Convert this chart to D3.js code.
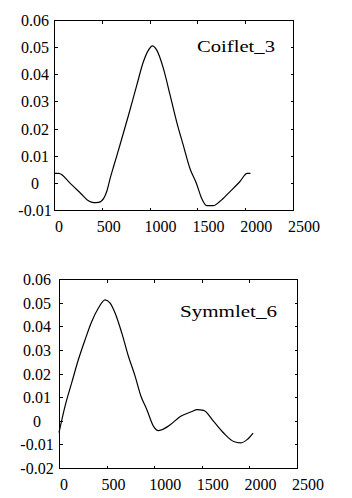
<!DOCTYPE html>
<html>
<head>
<meta charset="utf-8">
<script src="https://cdn.jsdelivr.net/npm/d3@7"></script>
<style>
  body { margin: 0; background: #fff; }
  svg { display: block; }
</style>
</head>
<body>
<div id="chart"></div>
<script>
// x ticks shared by both panels
const x_ticks = [0, 500, 1000, 1500, 2000, 2500]

// Coiflet_3 wavelet
const coiflet_x = [0, 50, 170, 280, 360, 415, 465, 520, 555, 590, 625, 693, 780, 866, 935, 988, 1029, 1075, 1144, 1214, 1283, 1352, 1422, 1492, 1544, 1596, 1665, 1734, 1839, 1943, 2020, 2055]
const coiflet_y = [0.0035, 0.0035, -0.0002, -0.0039, -0.0066, -0.0073, -0.0072, -0.0057, -0.0028, 0.0020, 0.0062, 0.0143, 0.025, 0.036, 0.0446, 0.0489, 0.0505, 0.0489, 0.0422, 0.0324, 0.0225, 0.0139, 0.0053, -0.0004, -0.0057, -0.0084, -0.0084, -0.0069, -0.0033, 0.0004, 0.0035, 0.0035]
const coiflet_yticks = [-0.01, 0, 0.01, 0.02, 0.03, 0.04, 0.05, 0.06]

// Symmlet_6 wavelet
const symmlet_x = [0, 63, 133, 203, 274, 344, 414, 484, 537, 589, 660, 730, 800, 860, 923, 993, 1045, 1081, 1168, 1274, 1397, 1449, 1519, 1624, 1729, 1835, 1905, 1975, 2039]
const symmlet_y = [-0.005, 0.0061, 0.016, 0.0258, 0.0343, 0.042, 0.0477, 0.0512, 0.0498, 0.0456, 0.0371, 0.0272, 0.0188, 0.0105, 0.0047, -0.0024, -0.0042, -0.0038, -0.0017, 0.0018, 0.0039, 0.0047, 0.0044, -0.0003, -0.0052, -0.0088, -0.0094, -0.008, -0.0052]
const symmlet_yticks = [-0.02, -0.01, 0, 0.01, 0.02, 0.03, 0.04, 0.05, 0.06]

const panels = [
  { name: "Coiflet_3", xs: coiflet_x, ys: coiflet_y, yticks: coiflet_yticks,
    x0: 54, x1: 293, y0: 20, y1: 210, label_x: 35, title_dx: 96, title_dy: 32, title_len: 78 },
  { name: "Symmlet_6", xs: symmlet_x, ys: symmlet_y, yticks: symmlet_yticks,
    x0: 59, x1: 297, y0: 279, y1: 468, label_x: 37, title_dx: 117, title_dy: 38, title_len: 97 }
]

const font = '"Liberation Serif"'

const svg = d3.select("#chart")
  .append("svg")
  .attr("width", 352)
  .attr("height", 498)

panels.forEach((p) => {
  const x_scale = d3.scaleLinear()
    .domain([0, 2500])
    .range([p.x0, p.x1])

  const y_scale = d3.scaleLinear()
    .domain([p.yticks[0], p.yticks[p.yticks.length - 1]])
    .range([p.y1, p.y0])

  const g = svg.append("g")

  // inward ticks on all four sides
  const tick = 3
  g.append("g")
    .attr("transform", `translate(0,${p.y1 + 0.5})`)
    .call(d3.axisBottom(x_scale).tickValues(x_ticks).tickSizeInner(-tick).tickSizeOuter(0).tickFormat(""))
  g.append("g")
    .attr("transform", `translate(0,${p.y0 + 0.5})`)
    .call(d3.axisTop(x_scale).tickValues(x_ticks).tickSizeInner(-tick).tickSizeOuter(0).tickFormat(""))
  g.append("g")
    .attr("transform", `translate(${p.x0 + 0.5},0)`)
    .call(d3.axisLeft(y_scale).tickValues(p.yticks).tickSizeInner(-tick).tickSizeOuter(0).tickFormat(""))
  g.append("g")
    .attr("transform", `translate(${p.x1 + 0.5},0)`)
    .call(d3.axisRight(y_scale).tickValues(p.yticks).tickSizeInner(-tick).tickSizeOuter(0).tickFormat(""))
  g.selectAll(".domain").remove()
  g.selectAll(".tick text").remove()
  g.selectAll(".tick line").attr("stroke", "#000").attr("shape-rendering", "crispEdges")

  // box
  g.append("rect")
    .attr("x", p.x0 + 0.5)
    .attr("y", p.y0 + 0.5)
    .attr("width", p.x1 - p.x0)
    .attr("height", p.y1 - p.y0)
    .attr("fill", "none")
    .attr("stroke", "#000")
    .attr("shape-rendering", "crispEdges")

  // tick labels
  g.selectAll("text.xlab")
    .data(x_ticks)
    .enter()
    .append("text")
      .attr("class", "xlab")
      .attr("x", (d) => d === 0 ? x_scale(d) + 1 : x_scale(d) - 5)
      .attr("y", p.y1 + 22)
      .style("font-family", font)
      .style("font-size", "16px")
      .text((d) => d)

  const fmt = (d) => d === 0 ? "0" : d3.format(".2f")(d).replace("\u2212", "-")
  g.selectAll("text.ylab")
    .data(p.yticks)
    .enter()
    .append("text")
      .attr("class", "ylab")
      .attr("x", p.label_x)
      .attr("y", (d) => y_scale(d) + 6)
      .attr("text-anchor", "middle")
      .style("font-family", font)
      .style("font-size", "16px")
      .text(fmt)

  // curve
  const pts = p.xs.map((v, i) => [v, p.ys[i]])
  const line = d3.line()
    .x((d) => x_scale(d[0]))
    .y((d) => y_scale(d[1]))
    .curve(d3.curveMonotoneX)
  g.append("path")
    .attr("d", line(pts))
    .attr("fill", "none")
    .attr("stroke", "#000")
    .attr("stroke-width", 1.2)

  g.append("text")
    .attr("x", p.x1 - p.title_dx)
    .attr("y", p.y0 + p.title_dy)
    .attr("textLength", p.title_len)
    .attr("lengthAdjust", "spacingAndGlyphs")
    .style("font-family", font)
    .style("font-size", "17px")
    .text(p.name)
})
</script>
</body>
</html>
